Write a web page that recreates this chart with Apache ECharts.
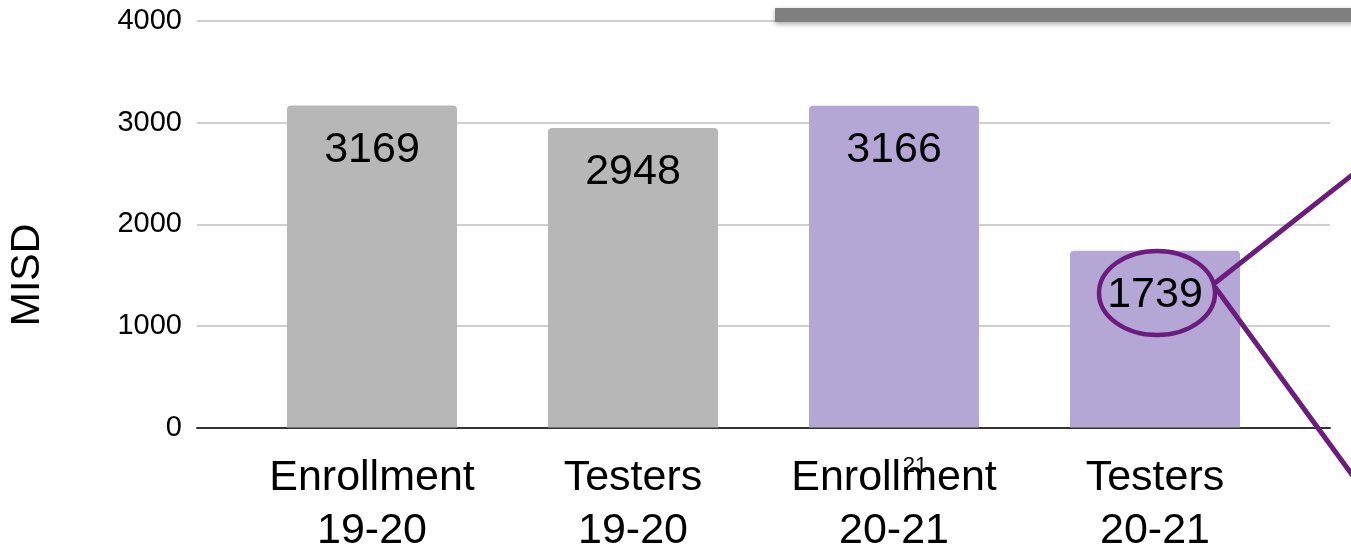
<!DOCTYPE html>
<html>
<head>
<meta charset="utf-8">
<script src="https://cdn.jsdelivr.net/npm/echarts@6/dist/echarts.min.js"></script>
<style>
  html, body { margin: 0; padding: 0; background: #fff; }
  #chart { width: 1351px; height: 545px; }
</style>
</head>
<body>
<div id="chart"></div>
<script>
// 数据
const categories = ['Enrollment\n19-20', 'Testers\n19-20', 'Enrollment\n20-21', 'Testers\n20-21']
const values = [3169, 2948, 3166, 1739]
const barColors = ['#b7b7b7', '#b7b7b7', '#b4a7d6', '#b4a7d6']
const yTicks = [0, 1000, 2000, 3000, 4000]

const font = '"Liberation Sans", Arial, sans-serif'
const purple = '#6c1c7c'

const chart = echarts.init(document.getElementById('chart'))

const option = {
  animation: false,
  backgroundColor: '#fff',
  grid: [
    // 背景网格线用的grid（比柱子区域更宽）
    { left: 197, right: 21, top: 21, bottom: 117.5, outerBoundsMode: 'none', containLabel: false },
    // 柱子用的grid
    { left: 241.5, right: 65.5, top: 21, bottom: 117.5, outerBoundsMode: 'none', containLabel: false }
  ],
  xAxis: [
    {
      gridIndex: 0, type: 'value', min: 0, max: 1,
      axisLine: { show: true, onZero: false, lineStyle: { color: '#333', width: 2 } },
      axisTick: { show: false }, axisLabel: { show: false }, splitLine: { show: false }
    },
    {
      gridIndex: 1, type: 'category', data: categories,
      axisLine: { show: false }, axisTick: { show: false },
      axisLabel: {
        interval: 0, margin: 24, color: '#000', fontSize: 43, lineHeight: 53, fontFamily: font
      }
    }
  ],
  yAxis: [
    {
      gridIndex: 0, type: 'value', min: yTicks[0], max: yTicks[yTicks.length - 1], interval: 1000,
      axisLine: { show: false }, axisTick: { show: false },
      axisLabel: { margin: 15, color: '#000', fontSize: 29, fontFamily: font, formatter: v => String(v) },
      splitLine: { lineStyle: { color: '#d0d0d0', width: 2 } }
    },
    {
      gridIndex: 1, type: 'value', min: yTicks[0], max: yTicks[yTicks.length - 1], interval: 1000,
      axisLine: { show: false }, axisTick: { show: false },
      axisLabel: { show: false }, splitLine: { show: false }
    }
  ],
  series: [
    {
      type: 'bar',
      xAxisIndex: 1, yAxisIndex: 1,
      barWidth: 170,
      data: values.map((v, i) => ({ value: v, itemStyle: { color: barColors[i] } })),
      itemStyle: { borderRadius: [4, 4, 0, 0] },
      label: {
        show: true, position: 'insideTop', distance: 23,
        color: '#000', fontSize: 43, lineHeight: 43, fontFamily: font
      },
      z: 3
    }
  ],
  graphic: [
    // 纵轴名称
    {
      type: 'text', x: 28, y: 275, rotation: Math.PI / 2,
      style: { text: 'MISD', fill: '#000', fontSize: 41, fontFamily: font, align: 'center', verticalAlign: 'middle' }
    },
    // 顶部的灰色阴影条
    {
      type: 'rect', shape: { x: 775, y: 8, width: 600, height: 14 },
      style: { fill: '#7f7f7f', shadowBlur: 5, shadowColor: 'rgba(0,0,0,0.35)', shadowOffsetY: 2 },
      z: 10
    },
    // 1739 外面的紫色圈
    {
      type: 'ellipse', shape: { cx: 1157, cy: 293, rx: 58, ry: 42 },
      style: { fill: 'none', stroke: purple, lineWidth: 4.5 }, z: 10
    },
    {
      type: 'line', shape: { x1: 1215, y1: 283, x2: 1356, y2: 172 },
      style: { stroke: purple, lineWidth: 5 }, z: 10
    },
    {
      type: 'line', shape: { x1: 1215, y1: 287, x2: 1356, y2: 480 },
      style: { stroke: purple, lineWidth: 5 }, z: 10
    },
    // 叠在标签上的小数字
    {
      type: 'text', x: 915, y: 466,
      style: { text: '21', fill: '#000', fontSize: 22, fontFamily: font, align: 'center', verticalAlign: 'middle' },
      z: 10
    }
  ]
}
chart.setOption(option)
</script>
</body>
</html>
